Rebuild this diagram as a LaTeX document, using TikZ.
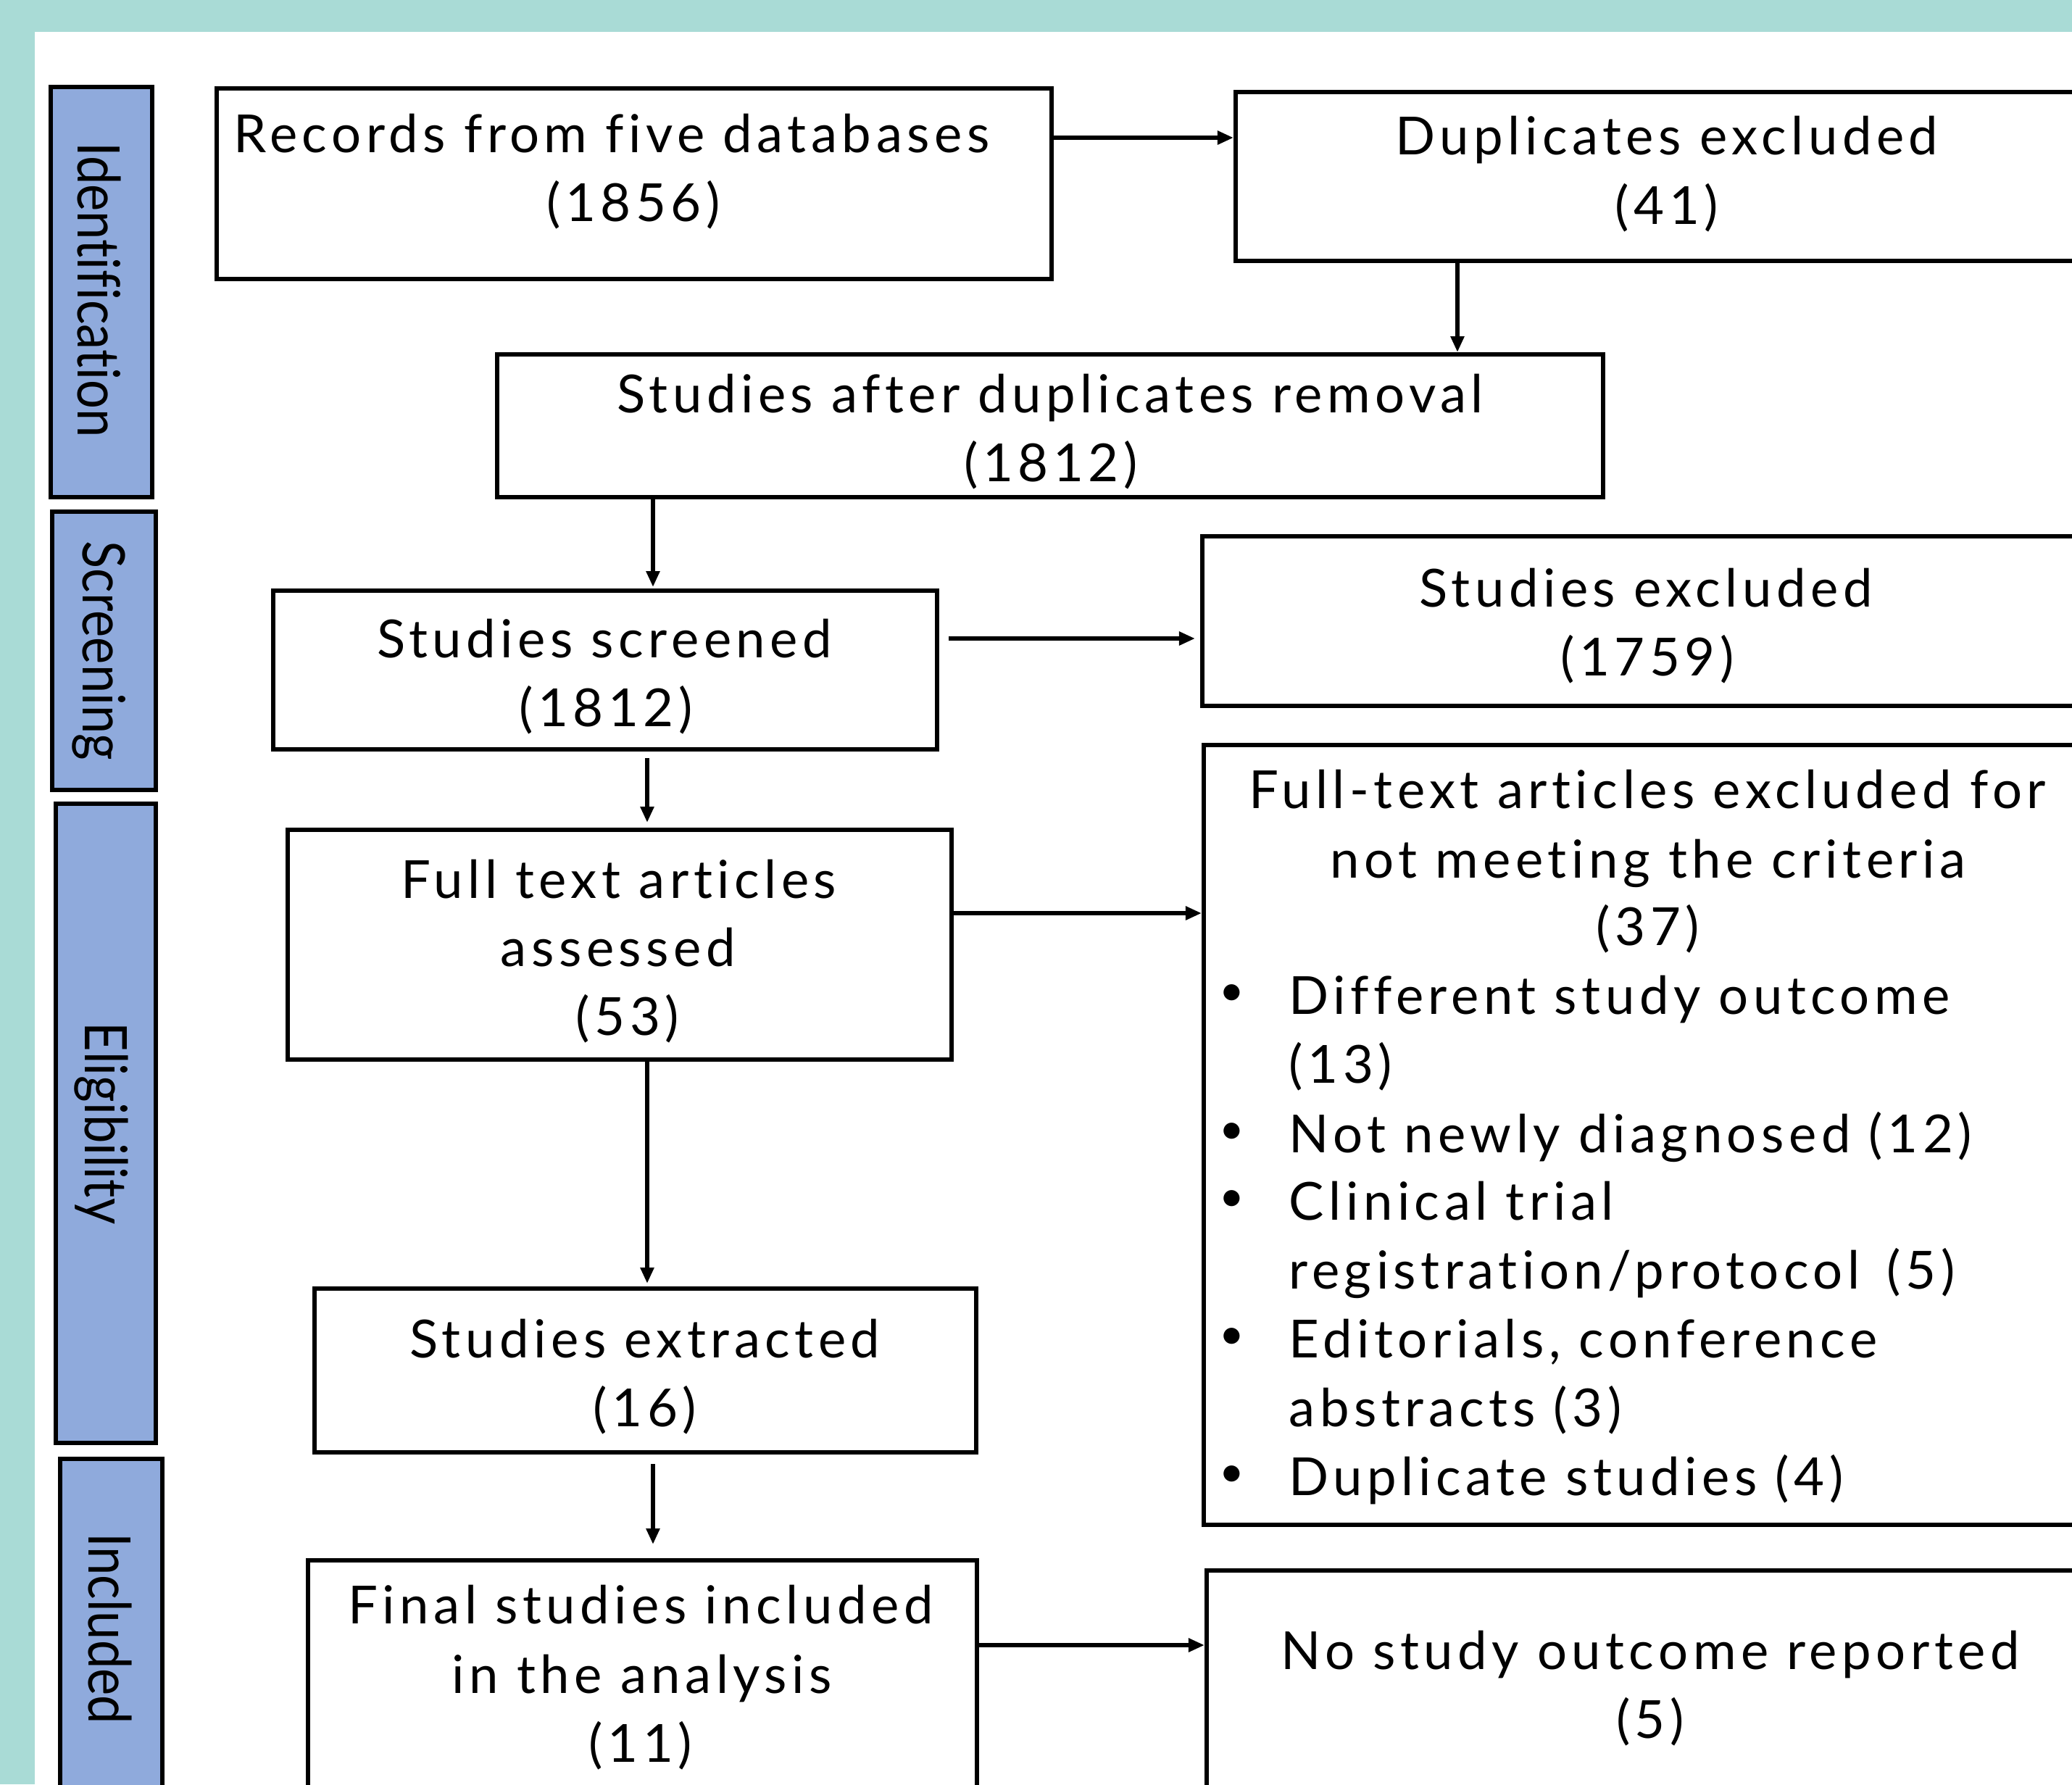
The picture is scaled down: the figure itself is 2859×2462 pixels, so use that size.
\documentclass[tikz,border=0pt]{standalone}
\usepackage{fontspec}
\setmainfont{Lato}[Ligatures=NoCommon]
\newfontfamily\boxfont{Lato}[LetterSpace=9,Ligatures=NoCommon]
\usetikzlibrary{arrows.meta,fit}
\definecolor{frameteal}{HTML}{A9DBD6}
\definecolor{bandblue}{HTML}{8FAADC}
\newcommand{\narrowlbl}[1]{\scalebox{0.87}[1]{#1}}
\begin{document}
\begin{tikzpicture}[x=0.01cm,y=-0.01cm,
  box/.style={draw,line width=0.06cm,inner sep=0pt,fill=white},
  band/.style={draw,line width=0.065cm,inner sep=0pt,fill=bandblue},
  txt/.style={font=\boxfont\fontsize{20.6}{27}\selectfont,anchor=base,inner sep=0pt},
  ltxt/.style={txt,anchor=base west},
  bul/.style={font=\boxfont\fontsize{17}{27}\selectfont,anchor=center,inner sep=0pt},
  lbl/.style={font=\fontsize{23}{28}\selectfont,rotate=-90,inner sep=0pt,text height=0.58cm,text depth=0pt,anchor=center},
  arr/.style={line width=0.06cm,-{Triangle[length=0.22cm,width=0.18cm]}},
]
\useasboundingbox (0,0) rectangle (2859,2462);
\clip (0,0) rectangle (2859,2462);
\fill[frameteal] (0,0) rectangle (2859,2462);
\fill[white] (48,44) rectangle (2900,2500);

% stage bands
\node[band,fit={(70,120)(210,686)}] (bid) {};
\node[band,fit={(72,706)(215,1090)}] (bsc) {};
\node[band,fit={(77,1109)(215,1991)}] (bel) {};
\node[band,fit={(83,2013)(224,2600)}] (bin) {};
\node[lbl] (lid) at (137,400) {\narrowlbl{Identification}};
\node[lbl] (lsc) at (144,898) {\narrowlbl{Screening}};
\node[lbl] (lel) at (147,1550) {\narrowlbl{Eligibility}};
\node[lbl] (lin) at (152,2247) {\narrowlbl{Included}};

% boxes
\node[box,fit={(299,122)(1451,385)}] (rec) {};
\node[box,fit={(1705,127)(2960,360)}] (dup) {};
\node[box,fit={(686,489)(2212,686)}] (after) {};
\node[box,fit={(377,815)(1293,1034)}] (scr) {};
\node[box,fit={(1659,740)(2960,974)}] (sexc) {};
\node[box,fit={(397,1145)(1313,1462)}] (fta) {};
\node[box,fit={(1661,1028)(2960,2104)}] (ftx) {};
\node[box,fit={(434,1778)(1347,2004)}] (ext) {};
\node[box,fit={(425,2153)(1348,2600)}] (fin) {};
\node[box,fit={(1665,2167)(2960,2600)}] (nso) {};

% texts
\node[txt] (rec1) at (844,210) {Records from five databases};
\node[txt] (rec2) at (874,305) {(1856)};
\node[txt] (dup1) at (2300,213) {Duplicates excluded};
\node[txt] (dup2) at (2300,309) {(41)};
\node[txt] (aft1) at (1449,569) {Studies after duplicates removal};
\node[txt] (aft2) at (1450,664) {(1812)};
\node[txt] (scr1) at (834,907) {Studies screened};
\node[txt] (scr2) at (836,1002) {(1812)};
\node[txt] (sex1) at (2271,837) {Studies excluded};
\node[txt] (sex2) at (2273,932) {(1759)};
\node[txt] (fta1) at (854,1239) {Full text articles};
\node[txt] (fta2) at (853,1333) {assessed};
\node[txt] (fta3) at (866,1428) {(53)};
\node[txt] (ftx1) at (2273,1115) {Full-text articles excluded for};
\node[txt] (ftx2) at (2274,1211) {not meeting the criteria};
\node[txt] (ftx3) at (2274,1304) {(37)};
\node[bul] (bu1) at (1700,1373) {•};
\node[ltxt] (it1a) at (1778,1399) {Different study outcome};
\node[ltxt] (it1b) at (1778,1494) {(13)};
\node[bul] (bu2) at (1700,1564) {•};
\node[ltxt] (it2a) at (1778,1590) {Not newly diagnosed (12)};
\node[bul] (bu3) at (1700,1657) {•};
\node[ltxt] (it3a) at (1778,1683) {Clinical trial};
\node[ltxt] (it3b) at (1778,1778) {registration/protocol\hspace{0.12cm} (5)};
\node[bul] (bu4) at (1700,1847) {•};
\node[ltxt] (it4a) at (1778,1873) {Editorials, conference};
\node[ltxt] (it4b) at (1778,1968) {abstracts (3)};
\node[bul] (bu5) at (1700,2037) {•};
\node[ltxt] (it5a) at (1778,2063) {Duplicate studies (4)};
\node[txt] (ext1) at (890,1873) {Studies extracted};
\node[txt] (ext2) at (890,1968) {(16)};
\node[txt] (fin1) at (884,2240) {Final studies included};
\node[txt] (fin2) at (886,2336) {in the analysis};
\node[txt] (fin3) at (884,2431) {(11)};
\node[txt] (nso1) at (2277,2303) {No study outcome reported};
\node[txt] (nso2) at (2277,2398) {(5)};

% connectors
\coordinate (y1) at (0,190);
\coordinate (x1) at (2011,0);
\coordinate (x2) at (901,0);
\coordinate (y2) at (0,881);
\coordinate (x3) at (893,0);
\coordinate (y3) at (0,1260);
\coordinate (x4) at (893,0);
\coordinate (x5) at (901,0);
\coordinate (y4) at (0,2270);
\draw[arr] (rec.east |- y1) -- (dup.west |- y1);
\draw[arr] (dup.south -| x1) -- (after.north -| x1);
\draw[arr,shorten >=0.02cm] (after.south -| x2) -- (scr.north -| x2);
\draw[arr,shorten <=0.13cm,shorten >=0.07cm] (scr.east |- y2) -- (sexc.west |- y2);
\draw[arr,shorten <=0.09cm,shorten >=0.07cm] (scr.south -| x3) -- (fta.north -| x3);
\draw[arr] (fta.east |- y3) -- (ftx.west |- y3);
\draw[arr,shorten >=0.04cm] (fta.south -| x4) -- (ext.north -| x4);
\draw[arr,shorten <=0.13cm,shorten >=0.19cm] (ext.south -| x5) -- (fin.north -| x5);
\draw[arr] (fin.east |- y4) -- (nso.west |- y4);
\end{tikzpicture}
\end{document}
